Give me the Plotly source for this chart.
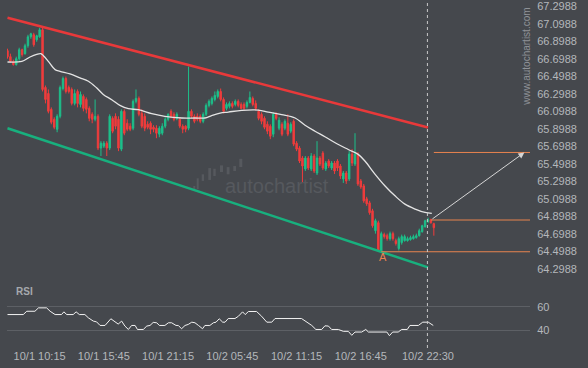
import plotly.graph_objects as go

# ---------------- data ----------------
bar_index = list(range(147))

open_ = [66.791,66.723,66.666,66.632,66.700,66.802,66.757,66.848,66.950,66.973,
         66.916,66.950,67.030,66.371,66.302,66.121,66.007,65.893,66.041,66.359,
         66.473,66.371,66.348,66.189,66.325,66.177,66.268,66.234,66.132,66.064,
         66.007,66.041,65.678,65.700,65.734,65.678,66.018,66.041,66.007,65.666,
         66.098,65.962,65.928,65.905,66.212,66.246,66.075,66.041,65.950,65.962,
         65.916,65.905,65.837,65.848,65.928,66.007,66.098,66.064,66.018,66.007,
         65.928,65.928,65.905,66.098,66.041,66.041,66.041,65.984,66.064,66.166,
         66.189,66.234,66.268,66.325,66.234,66.132,66.155,66.189,66.177,66.212,
         66.177,66.177,66.155,66.200,66.246,66.189,66.098,66.064,66.018,65.950,
         65.928,65.837,66.064,65.905,65.950,65.905,65.962,65.871,65.984,65.734,
         65.678,65.564,65.439,65.564,65.439,65.587,65.393,65.564,65.621,65.439,
         65.530,65.450,65.507,65.530,65.473,65.325,65.393,65.325,65.609,65.496,
         65.609,65.302,65.246,65.098,65.052,64.961,64.734,64.825,64.496,64.689,
         64.677,64.643,64.700,64.620,64.530,64.598,64.620,64.620,64.632,64.643,
         64.655,64.677,64.723,64.780,64.836,64.859,64.814]
high = [66.814,66.757,66.689,66.723,66.825,66.814,66.871,66.973,66.996,66.996,
        66.973,67.052,67.064,66.393,66.348,66.143,66.030,66.064,66.393,66.496,
        66.496,66.393,66.371,66.348,66.348,66.325,66.291,66.257,66.155,66.087,
        66.234,66.064,65.757,65.757,65.757,66.064,66.041,66.075,66.041,66.121,
        66.121,66.007,65.962,66.234,66.348,66.268,66.121,66.075,65.984,65.984,
        65.939,65.939,65.928,65.962,66.030,66.075,66.121,66.087,66.087,66.030,
        65.950,65.939,66.609,66.121,66.064,66.075,66.064,66.087,66.189,66.234,
        66.268,66.325,66.348,66.359,66.257,66.200,66.212,66.212,66.234,66.234,
        66.200,66.200,66.223,66.325,66.268,66.223,66.121,66.087,66.041,65.984,
        65.950,66.087,66.087,66.030,65.973,66.007,66.064,65.973,66.007,65.757,
        65.700,65.587,65.587,65.587,65.621,65.609,65.757,65.587,65.643,65.530,
        65.552,65.530,65.530,65.552,65.496,65.416,65.416,65.643,65.666,65.848,
        65.632,65.325,65.268,65.121,65.075,64.984,64.871,64.848,64.723,64.711,
        64.700,64.723,64.723,64.643,64.666,64.689,64.689,64.666,64.677,64.689,
        64.700,64.757,64.802,64.859,64.882,64.871,64.825]
low = [66.700,66.655,66.621,66.621,66.677,66.723,66.746,66.825,66.927,66.836,
       66.893,66.939,66.325,66.189,66.075,65.950,65.893,65.859,66.018,66.337,
       66.302,66.302,66.166,66.166,66.143,66.143,66.098,66.075,65.984,65.962,
       65.984,65.655,65.587,65.678,65.587,65.655,65.848,65.893,65.643,65.643,
       65.825,65.871,65.871,65.882,66.189,66.041,65.905,65.871,65.893,65.837,
       65.859,65.791,65.802,65.825,65.905,65.984,66.018,65.984,65.996,65.905,
       65.848,65.859,65.882,66.018,65.962,65.984,65.962,65.962,66.041,66.143,
       66.166,66.212,66.246,66.212,66.075,66.109,66.132,66.132,66.155,66.143,
       66.121,66.109,66.132,66.189,66.155,66.109,65.996,65.950,65.893,65.837,
       65.780,65.802,65.996,65.882,65.814,65.882,65.814,65.848,65.700,65.643,
       65.507,65.280,65.416,65.427,65.416,65.393,65.370,65.473,65.427,65.416,
       65.450,65.427,65.382,65.416,65.325,65.280,65.268,65.302,65.473,65.473,
       65.246,65.212,65.052,65.018,64.916,64.768,64.700,64.500,64.493,64.643,
       64.620,64.620,64.620,64.564,64.507,64.575,64.609,64.609,64.620,64.632,
       64.643,64.666,64.711,64.768,64.825,64.814,64.677]
close = [66.723,66.666,66.632,66.700,66.802,66.746,66.848,66.950,66.984,66.859,
         66.962,67.030,66.348,66.234,66.098,65.973,65.916,66.041,66.371,66.473,
         66.325,66.325,66.189,66.302,66.189,66.291,66.132,66.121,66.018,66.007,
         66.041,65.678,65.734,65.734,65.678,66.041,65.871,65.928,65.678,66.098,
         65.848,65.893,65.893,66.212,66.246,66.064,65.928,65.905,65.916,65.893,
         65.893,65.848,65.905,65.928,66.007,66.064,66.041,66.007,66.064,65.928,
         65.893,65.893,66.098,66.041,65.984,66.007,65.984,66.064,66.166,66.212,
         66.246,66.280,66.325,66.234,66.098,66.177,66.189,66.155,66.212,66.166,
         66.132,66.132,66.200,66.257,66.177,66.132,66.018,65.984,65.916,65.871,
         65.814,66.064,66.018,65.996,65.837,65.984,65.837,65.950,65.723,65.666,
         65.530,65.473,65.564,65.450,65.587,65.416,65.564,65.496,65.450,65.507,
         65.473,65.507,65.416,65.450,65.359,65.393,65.302,65.609,65.507,65.609,
         65.268,65.234,65.075,65.041,64.939,64.791,64.848,64.507,64.700,64.666,
         64.643,64.700,64.643,64.587,64.643,64.666,64.666,64.643,64.655,64.666,
         64.677,64.734,64.791,64.848,64.859,64.825,64.768]

# moving average
ma_x = [0, 4.9, 7.7, 10.0, 11.4, 12.3, 14.0, 16.3, 18.0, 21.4, 24.8, 27.7, 30.5, 32.8,
        35.7, 38.5, 41.4, 44.8, 49.4, 53.9, 59.7, 64.2, 67.6, 69.9, 72.8, 75.6, 80.2,
        85.9, 89.3, 93.9, 98.5, 101.9, 105.3, 108.7, 113.3, 116.7, 120.1, 122.4, 125.9,
        129.3, 132.7, 136.1, 139.6, 143.0, 145.3]
ma_y = [66.662, 66.669, 66.719, 66.749, 66.757, 66.734, 66.669, 66.575, 66.556, 66.526,
        66.481, 66.442, 66.367, 66.291, 66.231, 66.166, 66.128, 66.117, 66.072, 66.041,
        66.022, 66.022, 66.022, 66.049, 66.078, 66.090, 66.109, 66.112, 66.090, 66.060,
        66.022, 65.939, 65.871, 65.808, 65.719, 65.662, 65.606, 65.530, 65.378, 65.245,
        65.132, 65.037, 64.981, 64.942, 64.931]

# RSI
rsi_x = [0, 5.4, 6.6, 9.4, 10.6, 13.4, 14.6, 16.3, 18.5, 19.3, 20.3, 22.5, 23.5, 24.6,
         26.5, 27.7, 29.4, 30.5, 31.7, 33.4, 35.4, 36.8, 37.9, 39.1, 40.2, 41.4, 42.5,
         43.7, 44.5, 46.5, 47.7, 48.8, 49.9, 51.1, 52.0, 53.9, 55.1, 56.2, 57.7, 58.5,
         59.6, 60.8, 61.9, 63.1, 64.2, 65.4, 66.8, 67.6, 69.3, 70.5, 71.4, 72.5, 73.7,
         74.5, 75.6, 77.9, 79.1, 80.5, 81.4, 82.5, 85.3, 87.0, 88.8, 90.5, 91.6, 100.7,
         101.9, 104.2, 105.6, 107.6, 108.7, 109.9, 111.0, 113.3, 115.0, 116.7, 117.9,
         119.0, 121.3, 122.7, 123.6, 129.9, 130.8, 131.9, 133.8, 135.0, 136.9, 137.8,
         140.7, 142.2, 144.1, 145.8]
rsi_y = [53.5, 53.5, 56.3, 56.3, 59.2, 59.2, 56.3, 53.5, 53.5, 55.8, 53.5, 53.5, 55.8, 53.5,
         53.5, 50.7, 47.9, 47.3, 44.2, 44.2, 49.9, 47.0, 45.4, 47.9, 43.7, 40.8, 44.2,
         44.2, 40.8, 40.8, 43.7, 44.2, 46.8, 46.5, 44.2, 44.2, 46.5, 46.5, 44.2, 44.2,
         41.4, 44.2, 45.1, 47.0, 46.5, 44.2, 41.4, 44.2, 44.2, 46.5, 47.0, 49.9, 47.0,
         47.0, 50.1, 50.1, 52.1, 55.8, 53.5, 56.1, 56.1, 52.1, 47.0, 47.0, 50.1, 50.1,
         47.9, 44.2, 40.8, 40.8, 43.9, 43.7, 40.8, 40.8, 39.2, 39.2, 35.8,
         38.6, 38.6, 40.8, 38.6, 38.6, 35.5, 38.6, 38.6, 40.8, 40.8, 44.2,
         44.2, 47.0, 47.0, 44.2]

# channel (resistance / support) end points
channel_x = [0, 144]
resistance_y = [67.167, 65.914]
support_y = [65.904, 64.315]

# horizontal levels and forecast
level_values = [65.628, 64.856, 64.493]
level_start = [146, 145, 128]
forecast_from = (145, 64.856)
forecast_to = (177, 65.628)
pattern_point = (128.5, 64.43)
now_index = 143.8

tick_index = [11, 33, 55, 77, 99, 121, 144]
tick_text = ["10/1 10:15", "10/1 15:45", "10/1 21:15", "10/2 05:45",
             "10/2 11:15", "10/2 16:45", "10/2 22:30"]
price_ticks = [64.2988 + 0.2 * k for k in range(16)]

# ---------------- styling ----------------
BG = "#45484d"
TXT = "#b4b7bb"
RED = "#f03c3c"
GREEN = "#1dbf8a"
ORANGE = "#e8834f"
FONT = "Liberation Sans, Arial, sans-serif"

X_MIN, X_MAX = -0.171, 178.93
PLOT_W, PLOT_H = 523, 348

fig = go.Figure()

# channel lines
fig.add_trace(go.Scatter(x=channel_x, y=resistance_y, mode="lines",
                         line=dict(color="#e8393a", width=2.5), hoverinfo="skip",
                         xaxis="x", yaxis="y"))
fig.add_trace(go.Scatter(x=channel_x, y=support_y, mode="lines",
                         line=dict(color="#18b07e", width=2.5), hoverinfo="skip",
                         xaxis="x", yaxis="y"))

# horizontal levels
for lv, st in zip(level_values, level_start):
    fig.add_trace(go.Scatter(x=[st, X_MAX], y=[lv, lv], mode="lines",
                             line=dict(color=ORANGE, width=1), hoverinfo="skip",
                             xaxis="x", yaxis="y"))

# candles
fig.add_trace(go.Candlestick(
    x=bar_index, open=open_, high=high, low=low, close=close,
    increasing=dict(line=dict(color=GREEN, width=1), fillcolor=GREEN),
    decreasing=dict(line=dict(color=RED, width=1), fillcolor=RED),
    whiskerwidth=0, xaxis="x", yaxis="y", hoverinfo="skip"))

# moving average
fig.add_trace(go.Scatter(x=ma_x, y=ma_y, mode="lines",
                         line=dict(color="#e4e4e4", width=1.3, shape="spline"),
                         hoverinfo="skip", xaxis="x", yaxis="y"))

# RSI
fig.add_trace(go.Scatter(x=rsi_x, y=rsi_y, mode="lines",
                         line=dict(color="#f2f2f2", width=1), hoverinfo="skip",
                         xaxis="x", yaxis="y2"))

# forecast arrow
fig.add_annotation(x=forecast_to[0], y=forecast_to[1], ax=forecast_from[0], ay=forecast_from[1],
                   xref="x", yref="y", axref="x", ayref="y", text="", showarrow=True,
                   arrowhead=2, arrowsize=1.2, arrowwidth=1, arrowcolor="#d6d6d6")

# pattern point label
fig.add_annotation(x=pattern_point[0], y=pattern_point[1], xref="x", yref="y", text="A",
                   showarrow=False, font=dict(color=ORANGE, size=11, family=FONT))

# current time marker
fig.add_shape(type="line", xref="x", yref="paper", x0=now_index, x1=now_index, y0=0, y1=1,
              line=dict(color="#c9c9c9", width=1, dash="3px,3px"))

# watermark
fig.add_annotation(xref="paper", yref="paper", x=0.517, y=1 - 185 / PLOT_H, text="autochartist",
                   xanchor="center", yanchor="middle",
                   showarrow=False, font=dict(color="#56595e", size=20, family=FONT))
icon_bars = [(193.3, 195.3, 185, 188.3), (196.7, 198.7, 177.3, 188.3), (201.7, 204, 173.3, 180),
             (208.3, 211, 167, 179), (213.3, 215.7, 167.7, 175), (220, 223, 164.3, 171),
             (226.7, 229.5, 166, 173.3), (233.3, 236, 165, 170), (239.3, 242.3, 157.7, 166)]
for bx0, bx1, by0, by1 in icon_bars:
    fig.add_shape(type="rect", xref="paper", yref="paper",
                  x0=(bx0 - 7) / PLOT_W, x1=(bx1 - 7) / PLOT_W,
                  y0=1 - by1 / PLOT_H, y1=1 - by0 / PLOT_H,
                  line=dict(width=0), fillcolor="#56595e", layer="below")

fig.add_annotation(xref="paper", yref="paper", x=(527 - 7) / PLOT_W, y=1 - 55 / PLOT_H,
                   xanchor="center", yanchor="middle",
                   text="www.autochartist.com", textangle=-90, showarrow=False,
                   font=dict(color="#8f9297", size=10, family=FONT))
fig.add_annotation(xref="paper", yref="paper", x=(14 - 7) / PLOT_W, y=1 - 291 / PLOT_H,
                   xanchor="left", yanchor="middle",
                   text="<b>RSI</b>", showarrow=False,
                   font=dict(color="#a6a9ad", size=10, family=FONT))

fig.update_layout(
    width=588, height=368,
    margin=dict(l=7, r=58, t=0, b=20),
    paper_bgcolor=BG, plot_bgcolor=BG,
    showlegend=False,
    font=dict(family=FONT, color=TXT, size=11),
    xaxis=dict(range=[X_MIN, X_MAX], anchor="y2", showgrid=False, zeroline=False,
               showline=False, tickmode="array", tickvals=tick_index, ticktext=tick_text,
               rangeslider=dict(visible=False), ticks="", tickfont=dict(size=11, color=TXT)),
    yaxis=dict(domain=[0.2098, 1], range=[64.2227, 67.3477], side="right", anchor="x",
               showgrid=False, zeroline=False, showline=False,
               tickmode="array", tickvals=price_ticks,
               ticktext=["%.4f" % v for v in price_ticks],
               ticks="outside", ticklen=4, tickcolor="rgba(0,0,0,0)",
               ticklabeloverflow="allow",
               tickfont=dict(size=11, color=TXT)),
    yaxis2=dict(domain=[0, 0.1897], range=[25.0, 80.93], side="right", anchor="x",
                showgrid=True, gridcolor="#5d6065", gridwidth=1, zeroline=False,
                showline=False, tickmode="array", tickvals=[40, 60],
                ticktext=["40", "60"], ticks="outside", ticklen=4,
                tickcolor="rgba(0,0,0,0)", tickfont=dict(size=11, color=TXT)),
)

fig.write_html("out.html", config={"displayModeBar": False},
               post_script="document.body.style.margin='0px';document.body.style.background='%s';" % BG)
